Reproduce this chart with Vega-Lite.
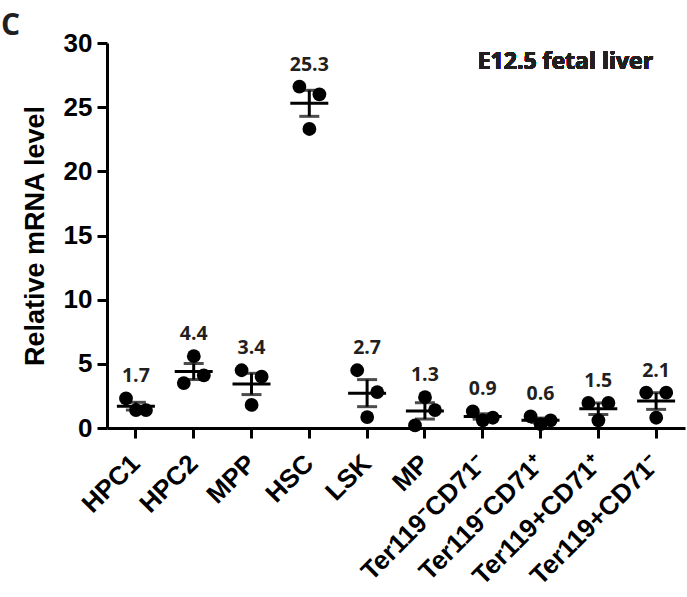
{
  "$schema": "https://vega.github.io/schema/vega-lite/v6.json",
  "width": 578,
  "height": 385,
  "autosize": {"type": "none"},
  "padding": {"left": 107, "top": 43, "right": 2, "bottom": 169},
  "background": "white",
  "title": {"text": "C", "anchor": "start", "frame": "group", "font": "Open Sans", "fontWeight": "bold", "fontSize": 30, "color": "#231f20", "dx": -106, "dy": 15, "offset": 4},
  "data": {"values": [
    {"cell": "HPC1", "pos": "L", "value": 2.3},
    {"cell": "HPC1", "pos": "C", "value": 1.4},
    {"cell": "HPC1", "pos": "R", "value": 1.4},
    {"cell": "HPC2", "pos": "L", "value": 3.5},
    {"cell": "HPC2", "pos": "C", "value": 5.6},
    {"cell": "HPC2", "pos": "R", "value": 4.1},
    {"cell": "MPP", "pos": "L", "value": 4.5},
    {"cell": "MPP", "pos": "C", "value": 1.8},
    {"cell": "MPP", "pos": "R", "value": 4.0},
    {"cell": "HSC", "pos": "L", "value": 26.6},
    {"cell": "HSC", "pos": "C", "value": 23.3},
    {"cell": "HSC", "pos": "R", "value": 26.0},
    {"cell": "LSK", "pos": "L", "value": 4.5},
    {"cell": "LSK", "pos": "C", "value": 0.85},
    {"cell": "LSK", "pos": "R", "value": 2.8},
    {"cell": "MP", "pos": "L", "value": 0.2},
    {"cell": "MP", "pos": "C", "value": 2.4},
    {"cell": "MP", "pos": "R", "value": 1.4},
    {"cell": "Ter119⁻CD71⁻", "pos": "L", "value": 1.3},
    {"cell": "Ter119⁻CD71⁻", "pos": "C", "value": 0.6},
    {"cell": "Ter119⁻CD71⁻", "pos": "R", "value": 0.8},
    {"cell": "Ter119⁻CD71⁺", "pos": "L", "value": 0.9},
    {"cell": "Ter119⁻CD71⁺", "pos": "C", "value": 0.3},
    {"cell": "Ter119⁻CD71⁺", "pos": "R", "value": 0.6},
    {"cell": "Ter119+CD71⁺", "pos": "L", "value": 1.95},
    {"cell": "Ter119+CD71⁺", "pos": "C", "value": 0.6},
    {"cell": "Ter119+CD71⁺", "pos": "R", "value": 1.95},
    {"cell": "Ter119+CD71⁻", "pos": "L", "value": 2.75},
    {"cell": "Ter119+CD71⁻", "pos": "C", "value": 0.8},
    {"cell": "Ter119+CD71⁻", "pos": "R", "value": 2.75}
  ]},
  "layer": [
    {
      "mark": {"type": "point", "filled": true, "color": "black", "opacity": 1, "size": 190, "shape": "circle"},
      "encoding": {
        "x": {"field": "cell", "type": "nominal", "title": null, "scale": {"type": "band", "paddingInner": 0, "paddingOuter": 0, "domain": ["HPC1", "HPC2", "MPP", "HSC", "LSK", "MP", "Ter119⁻CD71⁻", "Ter119⁻CD71⁺", "Ter119+CD71⁺", "Ter119+CD71⁻"]}},
        "xOffset": {"field": "pos", "type": "nominal", "scale": {"type": "point", "domain": ["L", "C", "R"], "range": [19, 39], "padding": 0}},
        "y": {"field": "value", "type": "quantitative", "title": "Relative mRNA level", "scale": {"domain": [0, 30], "nice": false}, "axis": {"values": [0, 5, 10, 15, 20, 25, 30]}}
      }
    },
    {
      "mark": {"type": "tick", "color": "black", "size": 38, "thickness": 3, "opacity": 1},
      "encoding": {
        "x": {"field": "cell", "type": "nominal", "title": null},
        "y": {"aggregate": "mean", "field": "value", "type": "quantitative", "title": "Relative mRNA level"}
      }
    },
    {
      "mark": {"type": "errorbar", "extent": "stderr", "color": "black", "rule": {"strokeWidth": 3}, "ticks": {"size": 20, "thickness": 3, "color": "black"}},
      "encoding": {
        "x": {"field": "cell", "type": "nominal", "title": null},
        "y": {"field": "value", "type": "quantitative", "title": "Relative mRNA level"}
      }
    },
    {
      "transform": [{"aggregate": [{"op": "mean", "field": "value", "as": "m"}, {"op": "max", "field": "value", "as": "mx"}], "groupby": ["cell"]}],
      "mark": {"type": "text", "font": "Open Sans", "fontWeight": "bold", "fontSize": 19.5, "color": "#231f20", "dy": -22, "baseline": "middle"},
      "encoding": {
        "x": {"field": "cell", "type": "nominal", "title": null},
        "y": {"field": "mx", "type": "quantitative", "title": "Relative mRNA level"},
        "text": {"field": "m", "type": "quantitative", "format": ".1f"}
      }
    },
    {
      "mark": {"type": "text", "font": "Open Sans", "fontWeight": "bold", "fontSize": 23, "color": "#231f20", "align": "right", "baseline": "middle", "dx": -3},
      "encoding": {
        "x": {"datum": "Ter119+CD71⁻", "type": "nominal", "title": null},
        "y": {"datum": 28.5, "type": "quantitative", "title": "Relative mRNA level"},
        "text": {"value": "E12.5 fetal liver"}
      }
    }
  ],
  "config": {
    "view": {"stroke": null},
    "axis": {"grid": false, "domainColor": "black", "domainWidth": 3, "tickColor": "black", "tickWidth": 3, "tickSize": 10, "labelFont": "Liberation Sans", "labelFontWeight": "bold", "labelFontSize": 26, "labelColor": "black", "titleFont": "Liberation Sans", "titleFontWeight": "bold", "titleFontSize": 27, "titleColor": "black"},
    "axisY": {"labelPadding": 5, "titlePadding": 14},
    "axisX": {"labelAngle": -45, "labelAlign": "right", "labelBaseline": "middle", "labelPadding": 21}
  }
}
